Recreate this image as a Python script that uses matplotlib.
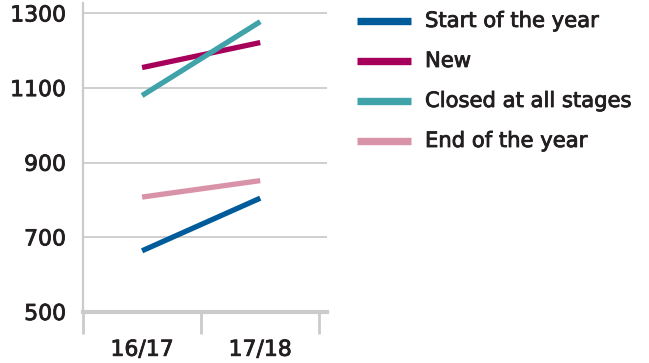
import matplotlib
matplotlib.use("Agg")
import matplotlib.pyplot as plt
import matplotlib.patheffects as pe
from matplotlib.lines import Line2D

years = ["16/17", "17/18"]
start_of_year = [664, 805]
new_cases = [1155, 1222]
closed_all = [1080, 1278]
end_of_year = [808, 852]

series_names = ["Start of the year", "New", "Closed at all stages", "End of the year"]
series_values = [start_of_year, new_cases, closed_all, end_of_year]
colours = ["#005b9a", "#a6005a", "#3fa3a9", "#d993a8"]

y_ticks = [500, 700, 900, 1100, 1300]

plt.rcParams['font.family'] = ['DejaVu Sans']
txt = "#231f20"
grey = "#cbcbcb"
bolder = [pe.withStroke(linewidth=0.6, foreground=txt)]  # a touch heavier, like the original

W, H = 649, 363
fig = plt.figure(figsize=(W/100, H/100), dpi=100)
# axes box in pixels: left 83, right 327, top 3, bottom 312
ax = fig.add_axes([83/W, 1-312/H, (327-83)/W, (312-3)/H])

xpos = [0.5, 1.5]
for name, vals, col in zip(series_names, series_values, colours):
    ax.plot(xpos, vals, color=col, lw=3.8, solid_capstyle='butt', label=name)

ax.set_xlim(0, 2.065)
ax.set_ylim(500, 1328)

ax.set_yticks(y_ticks)
ax.set_yticklabels([str(v) for v in y_ticks])
ax.yaxis.grid(True, color=grey, lw=1.3)
ax.set_axisbelow(True)
ax.tick_params(axis='y', length=0, pad=12, labelsize=15.8, labelcolor=txt)

# major ticks on category borders, labels sit on minor ticks
ax.set_xticks([0, 1, 2])
ax.set_xticklabels([])
ax.set_xticks(xpos, minor=True)
ax.set_xticklabels(years, minor=True)
ax.tick_params(axis='x', which='major', length=16, width=2, color=grey)
ax.tick_params(axis='x', which='minor', length=0, pad=20, labelsize=15.8, labelcolor=txt)

for lab in ax.get_yticklabels() + ax.get_xticklabels(minor=True):
    lab.set_path_effects(bolder)

for s in ['top', 'right']:
    ax.spines[s].set_visible(False)
ax.spines['left'].set_color(grey)
ax.spines['left'].set_linewidth(1.6)
ax.spines['bottom'].set_color(grey)
ax.spines['bottom'].set_linewidth(3)

# legend to the right, drawn by hand
for i, (name, col) in enumerate(zip(series_names, colours)):
    yy = 1 - (21 + 40*i)/H
    fig.add_artist(Line2D([357/W, 411/W], [yy, yy], color=col, lw=5.3,
                          solid_capstyle='butt', transform=fig.transFigure))
    fig.text(425/W, yy, name, fontsize=15.2, color=txt, va='center',
             path_effects=bolder)

fig.savefig("out.png", dpi=100)
